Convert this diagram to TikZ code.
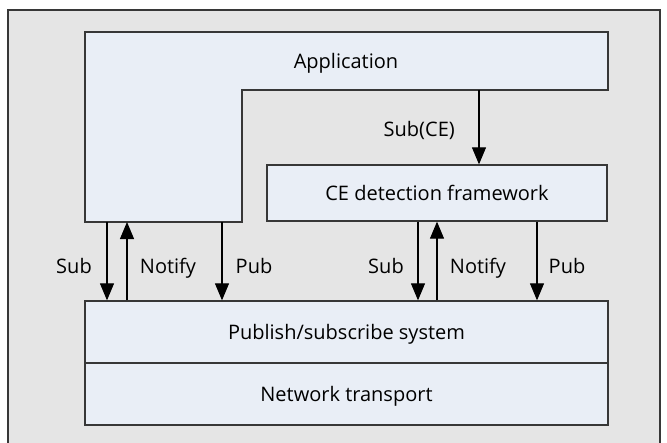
\documentclass[tikz,border=0pt]{standalone}
\usepackage{fontspec}
\setmainfont{Open Sans}
\usetikzlibrary{arrows.meta}
\definecolor{framegray}{RGB}{229,229,229}
\definecolor{boxblue}{RGB}{233,238,246}
\definecolor{edgegray}{RGB}{55,55,55}
\tikzset{
    layer/.style={draw=edgegray, line width=1.3pt, fill=boxblue, rectangle,
        inner sep=0pt, text height=14pt, text depth=0pt,
        font=\fontsize{20}{24}\selectfont},
    lbl/.style={font=\fontsize{20}{24}\selectfont, inner sep=0pt,
        text height=14pt, text depth=0pt},
    arr/.style={line width=1.1pt, -{Triangle[length=17pt,width=14pt]}}
}
\begin{document}
\begin{tikzpicture}[x=1pt,y=-1pt]
            \useasboundingbox (0,0) rectangle (667,442);
            \draw[fill=framegray, draw=edgegray, line width=1.4pt] (8,10) rectangle (660,460);
            % application, drawn as an L
            \draw[fill=boxblue, draw=edgegray, line width=1.3pt]
                (85,32) -- (608,32) -- (608,90) -- (242,90) -- (242,222)
                -- (85,222) -- cycle;
            \node[lbl] (app) at (346,61) {Application};
            \node[layer, minimum width=340pt, minimum height=56pt] (ce) at (437,193) {CE detection framework};
            \node[layer, minimum width=523pt, minimum height=62pt] (ps) at (346.5,332) {Publish/subscribe system};
            \node[layer, minimum width=523pt, minimum height=62pt] (net) at (346.5,394) {Network transport};
            \coordinate (aSub) at (107,222);
            \coordinate (aNotify) at (127,222);
            \coordinate (aPub) at (222,222);
            \coordinate (aCE) at (479,90);
            \coordinate (cSub) at (418,0);
            \coordinate (cNotify) at (437,0);
            \coordinate (cPub) at (537,0);
            \draw[arr] (aSub) -- (aSub |- ps.north);
            \draw[arr] (aNotify |- ps.north) -- (aNotify);
            \draw[arr] (aPub) -- (aPub |- ps.north);
            \draw[arr] (aCE) -- (aCE |- ce.north);
            \draw[arr] (cSub |- ce.south) -- (cSub |- ps.north);
            \draw[arr] (cNotify |- ps.north) -- (cNotify |- ce.south);
            \draw[arr] (cPub |- ce.south) -- (cPub |- ps.north);
            \node[lbl] (lSubA) at (74,266) {Sub};
            \node[lbl] (lNotifyA) at (168,266) {Notify};
            \node[lbl] (lPubA) at (254,266) {Pub};
            \node[lbl, anchor=east] (lSubCE) at (455,129) {Sub(CE)};
            \node[lbl] (lSubC) at (386,266) {Sub};
            \node[lbl] (lNotifyC) at (478,266) {Notify};
            \node[lbl] (lPubC) at (567,266) {Pub};
        \end{tikzpicture}
\end{document}
